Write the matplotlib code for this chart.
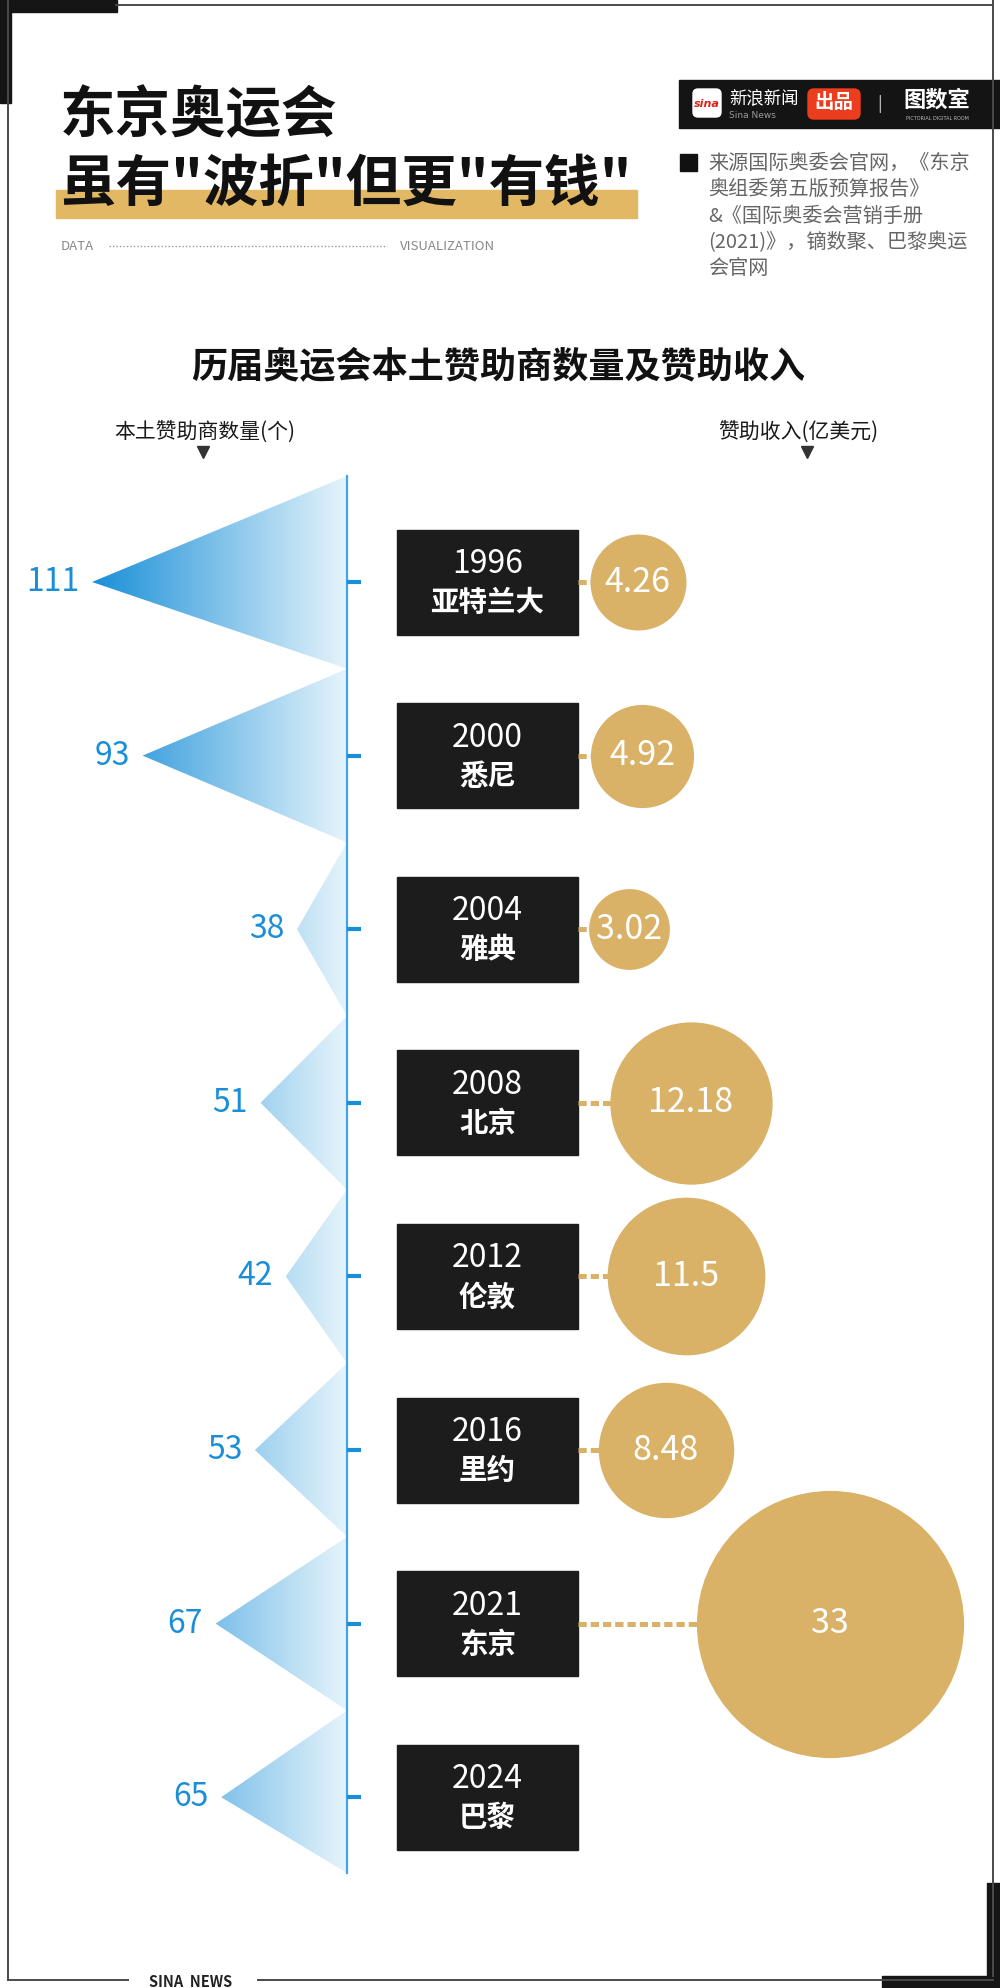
import matplotlib
matplotlib.use('Agg')
import matplotlib.pyplot as plt
import matplotlib.transforms as mtransforms
from matplotlib.patches import Rectangle, Polygon, FancyBboxPatch
from matplotlib.colors import LinearSegmentedColormap
import numpy as np

plt.rcParams['font.family'] = ['Noto Sans CJK SC', 'DejaVu Sans']

# data
years = ['1996', '2000', '2004', '2008', '2012', '2016', '2021', '2024']
cities = ['亚特兰大', '悉尼', '雅典', '北京', '伦敦', '里约', '东京', '巴黎']
sponsors = [111, 93, 38, 51, 42, 53, 67, 65]
revenue = [4.26, 4.92, 3.02, 12.18, 11.5, 8.48, 33, np.nan]  # 2024 not available

source_lines = ['来源国际奥委会官网，《东京',
                '奥组委第五版预算报告》',
                '&《国际奥委会营销手册',
                '(2021)》，镝数聚、巴黎奥运',
                '会官网']

# layout (pixels)
W, H = 1000, 1988
ROW0, ROW_STEP = 582, 173.6
AXIS_PX = 347
BASE = 20.2            # sponsor count sitting on the axis line
PX_PER_SPONSOR = 2.808
REV_PX0, PX_PER_REV = 609, 6.70
BUBBLE_K = 1121        # marker area (pt^2) per 100 million USD
BOX_X0, BOX_W, BOX_H = 397, 181, 105

BLUE = '#1a8fd8'
GOLD = '#d9b167'
DARK = '#1c1c1c'
FRAME = '#4a4a4a'

fig = plt.figure(figsize=(10, 19.88), dpi=100)

bg = fig.add_axes([0, 0, 1, 1])
bg.set_xlim(0, W)
bg.set_ylim(H, 0)
bg.axis('off')

row_top = -ROW0 / ROW_STEP
row_bot = (H - ROW0) / ROW_STEP

ax_l = fig.add_axes([0, 0, AXIS_PX / W, 1])
ax_r = fig.add_axes([AXIS_PX / W, 0, 1 - AXIS_PX / W, 1])
for ax in (ax_l, ax_r):
    ax.patch.set_alpha(0)
    ax.axis('off')

mix = mtransforms.blended_transform_factory(bg.transData, ax_r.transData)

# ---- frame decoration ----
bg.plot([116, 993], [5, 5], color=FRAME, lw=1.4)
bg.plot([8, 8], [0, 1980], color=FRAME, lw=1.4)
bg.plot([993, 993], [0, 1976], color=FRAME, lw=1.4)
bg.plot([8, 128], [1980, 1980], color=FRAME, lw=1.4)
bg.plot([258, 993], [1980, 1980], color=FRAME, lw=1.4)
bg.add_patch(Rectangle((0, 0), 117, 12, color='#151515'))
bg.add_patch(Rectangle((0, 0), 11, 103, color='#151515'))
bg.add_patch(Rectangle((987, 1883), 13, 105, color='#151515'))
bg.add_patch(Rectangle((882, 1976), 118, 12, color='#151515'))
bg.text(191, 1982, 'SINA  NEWS', ha='center', va='center', fontsize=10.5,
        color='#222222', fontweight='bold')

# ---- title ----
bg.add_patch(Rectangle((56, 190), 581, 28, color='#e2b865'))
bg.text(60, 116, '东京奥运会', fontsize=40, fontweight='black', color='#111111',
        ha='left', va='center')
bg.text(60, 185, '虽有"波折"但更"有钱"', fontsize=40, fontweight='black',
        color='#111111', ha='left', va='center')
bg.text(61, 246, 'DATA', fontsize=9.5, color='#888888', ha='left', va='center')
bg.plot([109, 387], [246, 246], color='#999999', lw=1, linestyle=(0, (1, 1.5)))
bg.text(400, 246, 'VISUALIZATION', fontsize=9.5, color='#888888', ha='left', va='center')

# ---- logo bar ----
bg.add_patch(Rectangle((679, 80), 321, 48, color='#141414'))
bg.add_patch(FancyBboxPatch((693, 89), 28, 28, boxstyle='round,pad=0,rounding_size=5',
                            color='white'))
bg.text(707, 104, 'sina', fontsize=8, color='#e0201c', fontweight='bold',
        style='italic', ha='center', va='center', family='DejaVu Sans')
bg.text(729, 98, '新浪新闻', fontsize=12.5, color='white', ha='left', va='center')
bg.text(729, 115, 'Sina News', fontsize=6.5, color='#9a9a9a', ha='left', va='center',
        family='DejaVu Sans')
bg.add_patch(FancyBboxPatch((808, 89), 52, 30, boxstyle='round,pad=0,rounding_size=6',
                            color='#ec3d1e'))
bg.text(834, 103, '出品', fontsize=14, color='white', fontweight='bold',
        ha='center', va='center')
bg.text(880, 104, '|', fontsize=12, color='#cccccc', ha='center', va='center')
bg.text(937, 100, '图数室', fontsize=16, color='white', fontweight='black',
        ha='center', va='center')
bg.text(937, 118, 'PICTORIAL DIGITAL ROOM', fontsize=3.5, color='#bbbbbb',
        ha='center', va='center', family='DejaVu Sans')

# ---- source ----
bg.add_patch(Rectangle((680, 154), 17, 17, color='#111111'))
for k, line in enumerate(source_lines):
    bg.text(708, 163 + 26.5 * k, line, fontsize=14.5, color='#666666',
            ha='left', va='center')

# ---- chart headings ----
bg.text(498, 367, '历届奥运会本土赞助商数量及赞助收入', fontsize=26, fontweight='bold',
        color='#111111', ha='center', va='center')
bg.text(205, 433, '本土赞助商数量(个)', fontsize=15, color='#1a1a1a', ha='center', va='center')
bg.plot([203], [452], marker='v', ms=8, color='#333333')
bg.text(798, 433, '赞助收入(亿美元)', fontsize=15, color='#1a1a1a', ha='center', va='center')
bg.plot([807], [452], marker='v', ms=8, color='#333333')

# ---- sponsor triangles (left) ----
n = len(years)
rows = np.arange(n)
edges = np.concatenate([[(476 - ROW0) / ROW_STEP],
                        (rows[:-1] + rows[1:]) / 2,
                        [(1873 - ROW0) / ROW_STEP]])
cmap = LinearSegmentedColormap.from_list('tri', [BLUE, '#e6f4fb'])
grad = np.linspace(0, 1, 256).reshape(1, -1)
for i, v in enumerate(sponsors):
    tri = Polygon([(BASE, edges[i]), (v, i), (BASE, edges[i + 1])], closed=True,
                  facecolor='none', edgecolor='none')
    ax_l.add_patch(tri)
    im = ax_l.imshow(grad, cmap=cmap, extent=(max(sponsors), BASE, edges[-1], edges[0]),
                     aspect='auto', interpolation='bilinear')
    im.set_clip_path(tri)
    lbl_tr = mtransforms.offset_copy(ax_l.transData, fig=fig, x=-9, y=0, units='points')
    ax_l.text(v, i, str(v), transform=lbl_tr, ha='right', va='center',
              fontsize=23, color=BLUE)

ax_l.set_xlim(BASE + AXIS_PX / PX_PER_SPONSOR, BASE)
ax_l.set_ylim(row_bot, row_top)

# axis line and ticks
ax_r.plot([AXIS_PX, AXIS_PX], [edges[0], edges[-1]], transform=mix, color='#42a4e6',
          lw=1.6, clip_on=False)
for i in rows:
    ax_r.plot([AXIS_PX, AXIS_PX + 14], [i, i], transform=mix, color=BLUE, lw=3,
              solid_capstyle='butt', clip_on=False)

# ---- year boxes ----
for i in rows:
    ax_r.add_patch(Rectangle((BOX_X0, i - BOX_H / 2 / ROW_STEP), BOX_W, BOX_H / ROW_STEP,
                             transform=mix, color=DARK, clip_on=False))
    ax_r.text(BOX_X0 + BOX_W / 2, i - 18 / ROW_STEP, years[i], transform=mix,
              fontsize=23, color='white', ha='center', va='center')
    ax_r.text(BOX_X0 + BOX_W / 2, i + 21 / ROW_STEP, cities[i], transform=mix,
              fontsize=20.5, color='white', fontweight='bold', ha='center', va='center')

# ---- revenue bubbles (right) ----
xr0 = (AXIS_PX - REV_PX0) / PX_PER_REV
xr1 = (W - REV_PX0) / PX_PER_REV
box_right = (BOX_X0 + BOX_W - REV_PX0) / PX_PER_REV
for i, r in enumerate(revenue):
    if np.isnan(r):
        continue
    ax_r.plot([box_right, r], [i, i], color=GOLD, lw=3.6, linestyle=(0, (1.65, 0.8)),
              zorder=2, clip_on=False)
    ax_r.scatter([r], [i], s=BUBBLE_K * r, color=GOLD, linewidths=0, zorder=3,
                 clip_on=False)
    ax_r.text(r, i, f'{r:g}', fontsize=24.5, color='white', ha='center', va='center',
              zorder=4)

ax_r.set_xlim(xr0, xr1)
ax_r.set_ylim(row_bot, row_top)

fig.savefig('out.png', dpi=100)
